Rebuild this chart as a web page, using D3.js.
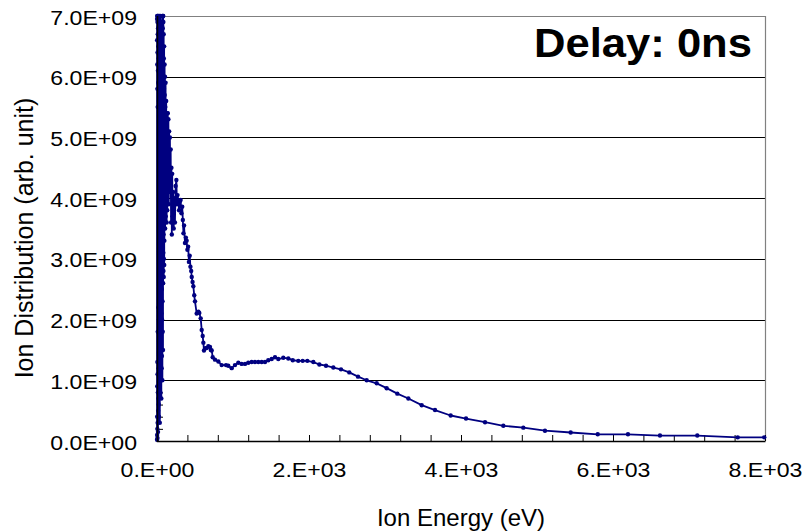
<!DOCTYPE html>
<html>
<head>
<meta charset="utf-8">
<script src="https://cdn.jsdelivr.net/npm/d3@7"></script>
<style>
  body { margin: 0; background: #fff; }
  svg text { font-family: "Liberation Sans", Arial, sans-serif; fill: #000; }
</style>
</head>
<body>
<div id="chart"></div>
<script>
"use strict"

// ion energy (eV)
var energy = [
  0.5, 1, 1.5, 2, 2.5, 3, 3.5, 4, 4.5, 5, 5.5, 6, 6.5, 7, 7.5, 8, 8.5, 9, 9.5, 10,
  11, 12, 13, 14, 15, 16, 17, 18, 19, 20,
  21, 22, 23, 24, 25, 26, 27, 28, 29, 30, 31, 32, 33, 34, 35, 36, 37, 38, 39, 40,
  41, 42, 43, 44, 45, 46, 47, 48, 49, 50, 51, 52, 53, 54, 55, 56, 57, 58, 59, 60,
  61, 62, 63, 64, 65,
  66, 67, 68, 69, 70, 71, 72, 73, 74, 75, 76, 77, 78, 79, 80, 81, 82, 83, 84, 85,
  86, 87, 88, 89, 90, 91, 92, 93, 94, 95, 96, 97, 98, 99, 100,
  101, 103, 105, 107, 109, 111, 113, 115, 117, 119, 121, 123, 125, 127, 129, 131, 133, 135, 137, 139,
  142, 146, 150, 155, 160, 165, 170, 175, 180, 185, 190, 195, 200,
  205, 212, 220, 228, 236, 245, 255, 262, 270, 280, 290, 300, 311, 322, 332, 340,
  348, 356, 368, 380, 390, 400, 410, 420, 430, 440, 450, 457, 468, 478, 490, 500,
  522, 545, 557, 575, 588, 601, 610, 618, 636, 654, 675, 697, 708, 720, 733, 763,
  807, 851, 908, 938, 983, 1026, 1070, 1114, 1158, 1201, 1246, 1289, 1333, 1378,
  1421, 1464, 1509, 1553, 1596, 1662, 1728, 1786, 1859, 1917, 1978, 2057, 2136,
  2224, 2320, 2421, 2530, 2645, 2759, 2891, 3022, 3162, 3307, 3483, 3658, 3864,
  4066, 4316, 4557, 4820, 5105, 5443, 5799, 6197, 6618, 7109, 7641, 7990
];
// ion distribution in units of 1E+09 (arb. unit)
var ionDist = [
  0.02, 6.95, 0.1, 6.6, 0.4, 7.0, 0.9, 6.2, 0.2, 5.8, 1.3, 6.9, 0.05, 6.4, 1.1, 7.0, 0.3, 5.5, 1.8, 6.7,
  0.8, 6.1, 0.15, 6.8, 0.5, 5.9, 2.2, 6.5, 0.7, 7.0,
  1.2, 6.3, 0.6, 6.9, 2.0, 5.6, 0.4, 6.6, 1.6, 7.0, 0.9, 6.0, 2.4, 6.8, 1.1, 5.7, 0.3, 6.5, 1.9, 6.9,
  1.3, 6.2, 2.6, 7.0, 0.8, 5.9, 1.7, 6.7, 2.2, 6.4, 1.0, 5.5, 2.8, 6.9, 1.5, 6.1, 0.7, 6.6, 2.1, 5.8,
  1.2, 6.8, 2.5, 6.3, 1.4,
  6.9, 2.0, 6.0, 2.7, 7.0, 1.0, 5.6, 2.3, 6.5, 1.8, 6.8, 2.9, 7.0, 1.5, 6.2, 2.6, 7.0, 3.1, 6.9, 2.8,
  5.9, 3.4, 6.7, 2.7, 6.3, 3.0, 5.8, 3.5, 6.5, 2.9, 6.0, 3.3, 5.6, 3.6, 6.2,
  5.7, 3.8, 6.0, 3.5, 5.5, 4.0, 5.9, 3.7, 5.2, 4.2, 5.6, 3.9, 5.3, 3.6, 5.0, 4.1, 5.4, 3.8, 4.9, 4.3,
  5.4, 4.2, 5.3, 3.9, 5.1, 4.4, 5.0, 4.1, 4.8, 3.6, 4.5, 3.4, 4.4,
  3.7, 4.1, 3.5, 4.0, 3.6, 4.2, 4.3, 3.9, 4.05, 3.97, 3.8, 3.95, 3.97, 3.75, 3.86, 3.64,
  3.42, 3.55, 3.26, 3.35, 3.3, 3.15, 3.2, 2.95, 3.05, 2.87, 2.8, 2.7, 2.62, 2.55, 2.4, 2.3,
  2.1, 2.13, 2.11, 2.02, 1.83, 1.73, 1.62, 1.49, 1.53, 1.53, 1.56, 1.55, 1.5, 1.49, 1.38, 1.34,
  1.31, 1.25, 1.25, 1.24, 1.2, 1.25, 1.29, 1.27, 1.27, 1.29, 1.3, 1.3, 1.3, 1.3,
  1.3, 1.33, 1.35, 1.38, 1.35, 1.37, 1.36, 1.33, 1.32, 1.32, 1.32, 1.3, 1.26,
  1.24, 1.21, 1.18, 1.13, 1.06, 1.0, 0.95, 0.87, 0.78, 0.70, 0.59, 0.51, 0.42,
  0.37, 0.31, 0.25, 0.22, 0.17, 0.14, 0.11, 0.11, 0.09, 0.09, 0.06, 0.06
];
var unit = 1e9;

var xTicks = [0, 2000, 4000, 6000, 8000];
var xTickLabels = ["0.E+00", "2.E+03", "4.E+03", "6.E+03", "8.E+03"];
var yTicks = [0, 1e9, 2e9, 3e9, 4e9, 5e9, 6e9, 7e9];
var yTickLabels = ["0.0E+00", "1.0E+09", "2.0E+09", "3.0E+09", "4.0E+09", "5.0E+09", "6.0E+09", "7.0E+09"];
var xTitle = "Ion Energy (eV)";
var yTitle = "Ion Distribution (arb. unit)";
var label = "Delay: 0ns";

// plot box in page pixels
var size = {width: 806, height: 531};
var box = {left: 157, right: 765, top: 16, bottom: 441};
var navy = "#000080";

var svg = d3.select("#chart").append("svg")
    .attr("width", size.width)
    .attr("height", size.height);

var x = d3.scaleLinear().domain([0, 8000]).range([box.left, box.right]);
var y = d3.scaleLinear().domain([0, 7e9]).range([box.bottom, box.top]);

var points = energy.map(function(e, i) { return {e: e, v: ionDist[i] * unit}; });

// horizontal gridlines
svg.append("g").selectAll("line")
  .data(yTicks.slice(1, -1))
  .enter().append("line")
    .attr("x1", box.left).attr("x2", box.right)
    .attr("y1", function(d) { return Math.round(y(d)) + 0.5; })
    .attr("y2", function(d) { return Math.round(y(d)) + 0.5; })
    .attr("stroke", "#000")
    .attr("stroke-width", 1);

// top and right border, grey
svg.append("path")
  .attr("d", "M" + box.left + "," + (box.top + 0.5) + "H" + (box.right + 0.5) + "V" + box.bottom)
  .attr("fill", "none")
  .attr("stroke", "#808080")
  .attr("stroke-width", 1.2);

// minor ticks (inside)
var xMinor = svg.append("g")
  .attr("transform", "translate(0," + box.bottom + ")")
  .call(d3.axisBottom(x).tickValues(d3.range(0, 8001, 400)).tickSize(-6).tickFormat(""));
xMinor.select(".domain").remove();
xMinor.selectAll("line").attr("stroke", "#000");

var yMinor = svg.append("g")
  .attr("transform", "translate(" + box.left + ",0)")
  .call(d3.axisLeft(y).tickValues(d3.range(0, 7.01e9, 0.2e9)).tickSize(-6).tickFormat(""));
yMinor.select(".domain").remove();
yMinor.selectAll("line").attr("stroke", "#000");

// data line and markers
var line = d3.line()
  .x(function(d) { return x(d.e); })
  .y(function(d) { return y(d.v); });

svg.append("path")
  .datum(points)
  .attr("d", line)
  .attr("fill", "none")
  .attr("stroke", navy)
  .attr("stroke-width", 1.8)
  .attr("stroke-linejoin", "round");

svg.append("g").selectAll("circle")
  .data(points)
  .enter().append("circle")
    .attr("cx", function(d) { return x(d.e); })
    .attr("cy", function(d) { return y(d.v); })
    .attr("r", 2.2)
    .attr("fill", navy);

// axis lines
svg.append("path")
  .attr("d", "M" + (box.left + 0.5) + "," + box.top + "V" + (box.bottom + 0.5) + "H" + (box.right + 0.5))
  .attr("fill", "none")
  .attr("stroke", "#000")
  .attr("stroke-width", 1.5);

// tick labels
var xAxis = svg.append("g")
  .attr("transform", "translate(0," + box.bottom + ")")
  .call(d3.axisBottom(x).tickValues(xTicks).tickSize(0).tickPadding(0)
    .tickFormat(function(d, i) { return xTickLabels[i]; }));
xAxis.select(".domain").remove();
xAxis.selectAll("text")
  .attr("y", 0).attr("dy", null)
  .attr("transform", "translate(0,36) scale(1.1,1)")
  .style("font-size", "21px");

var yAxis = svg.append("g")
  .attr("transform", "translate(" + box.left + ",0)")
  .call(d3.axisLeft(y).tickValues(yTicks).tickSize(0).tickPadding(0)
    .tickFormat(function(d, i) { return yTickLabels[i]; }));
yAxis.select(".domain").remove();
yAxis.selectAll("text")
  .attr("x", 0).attr("dy", null)
  .attr("transform", "translate(-20,8) scale(1.1,1)")
  .style("font-size", "21px");
svg.selectAll(".tick text").attr("font-family", null).attr("fill", "#000");

// titles
svg.append("text")
  .attr("transform", "translate(461,526)")
  .attr("text-anchor", "middle")
  .style("font-size", "24px")
  .text(xTitle);

svg.append("text")
  .attr("transform", "translate(33,238) rotate(-90)")
  .attr("text-anchor", "middle")
  .style("font-size", "25px")
  .text(yTitle);

svg.append("text")
  .attr("transform", "translate(752,57) scale(1.09,1)")
  .attr("text-anchor", "end")
  .style("font-size", "40px")
  .style("font-weight", "bold")
  .text(label);
</script>
</body>
</html>
